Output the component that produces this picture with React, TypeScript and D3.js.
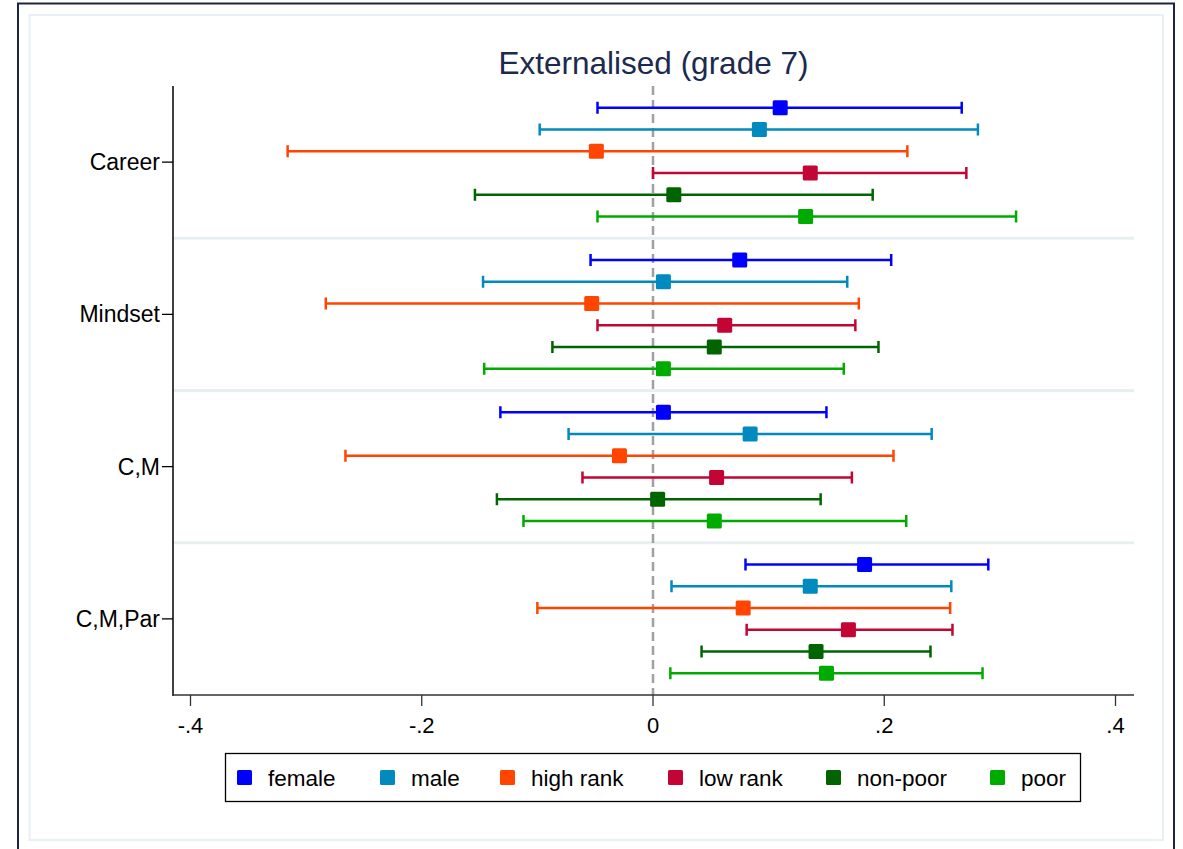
import React from "react";
import * as d3 from "d3";

// models on the y axis, top to bottom
const models = ["Career", "Mindset", "C,M", "C,M,Par"];

const groups = ["female", "male", "high rank", "low rank", "non-poor", "poor"];
const colors = ["#0000ff", "#008abd", "#ff4500", "#c20535", "#006400", "#00ab00"];

// point estimates, one array per model, in the order of groups
const estCareer = [0.11, 0.092, -0.049, 0.136, 0.018, 0.132];
const estMindset = [0.075, 0.009, -0.053, 0.062, 0.053, 0.009];
const estCM = [0.009, 0.084, -0.029, 0.055, 0.004, 0.053];
const estCMPar = [0.183, 0.136, 0.078, 0.169, 0.141, 0.15];

// lower and upper ends of the confidence intervals
const loCareer = [-0.048, -0.098, -0.316, 0.0, -0.154, -0.048];
const hiCareer = [0.267, 0.281, 0.22, 0.271, 0.19, 0.314];
const loMindset = [-0.054, -0.147, -0.283, -0.048, -0.087, -0.146];
const hiMindset = [0.206, 0.168, 0.178, 0.175, 0.195, 0.165];
const loCM = [-0.132, -0.073, -0.266, -0.061, -0.135, -0.112];
const hiCM = [0.15, 0.241, 0.208, 0.172, 0.145, 0.219];
const loCMPar = [0.08, 0.016, -0.1, 0.081, 0.042, 0.015];
const hiCMPar = [0.29, 0.258, 0.257, 0.259, 0.24, 0.285];

const xTicks = [-0.4, -0.2, 0, 0.2, 0.4];

const est = [estCareer, estMindset, estCM, estCMPar];
const lo = [loCareer, loMindset, loCM, loCMPar];
const hi = [hiCareer, hiMindset, hiCM, hiCMPar];

const rows = models.flatMap((m, mi) =>
  groups.map((g, gi) => ({
    model: m,
    group: g,
    color: colors[gi],
    gi,
    est: est[mi][gi],
    lo: lo[mi][gi],
    hi: hi[mi][gi],
  }))
);

const fmt = (v: number) => {
  if (v === 0) return "0";
  const s = String(Math.abs(v)).replace(/^0/, "");
  return v < 0 ? "-" + s : s;
};

const font = "'Liberation Sans', Arial, Helvetica, sans-serif";

export default function App() {
  const W = 1183;
  const H = 849;
  const left = 173;
  const right = 1134;
  const top = 86;
  const bottom = 695;

  const x = d3.scaleLinear().domain([-0.4, 0.4]).range([190.5, 1115.5]);
  const y = d3.scaleBand().domain(models).range([top, bottom]).padding(0);
  const bw = y.bandwidth();
  const rowY = (m: string, gi: number) => (y(m) as number) + (bw / 7) * (gi + 1);

  const legendX = [237, 380, 500, 668, 826, 990];

  return (
    <svg
      width={W}
      height={H}
      style={{ position: "absolute", left: 0, top: 0, display: "block", background: "#fff" }}
      fontFamily={font}
    >
      <rect x={18} y={3.5} width={1156} height={860} fill="#fff" stroke="#1c2442" strokeWidth={2} />
      <rect x={29.5} y={15} width={1133.5} height={825} fill="#fff" stroke="#e8f0f3" strokeWidth={2} />

      <text x={(left + right) / 2} y={74} textAnchor="middle" fontSize={31.5} fill="#1c2a4e">
        Externalised (grade 7)
      </text>

      {/* separators between models */}
      {models.slice(1).map((m) => (
        <line key={m} x1={left} x2={right} y1={y(m)} y2={y(m)} stroke="#e8eff1" strokeWidth={3} />
      ))}

      {/* zero reference */}
      <line
        x1={x(0)}
        x2={x(0)}
        y1={top}
        y2={bottom}
        stroke="#a0a0a0"
        strokeWidth={2.5}
        strokeDasharray="9 5"
      />

      {/* axes */}
      <line x1={left} x2={left} y1={top} y2={bottom + 1} stroke="#000" strokeWidth={1.5} />
      <line x1={left} x2={right} y1={bottom} y2={bottom} stroke="#333" strokeWidth={1.5} />
      {models.map((m) => {
        const cy = (y(m) as number) + bw / 2;
        return (
          <g key={m}>
            <line x1={left - 11} x2={left} y1={cy} y2={cy} stroke="#000" strokeWidth={1.3} />
            <text x={left - 13} y={cy + 8} textAnchor="end" fontSize={23} fill="#000">
              {m}
            </text>
          </g>
        );
      })}
      {xTicks.map((t) => (
        <g key={t}>
          <line x1={x(t)} x2={x(t)} y1={bottom} y2={bottom + 11} stroke="#333" strokeWidth={1.3} />
          <text x={x(t)} y={733} textAnchor="middle" fontSize={22} fill="#000">
            {fmt(t)}
          </text>
        </g>
      ))}

      {/* confidence intervals and estimates */}
      {rows.map((r, i) => {
        const cy = rowY(r.model, r.gi);
        return (
          <g key={i}>
            <line x1={x(r.lo)} x2={x(r.hi)} y1={cy} y2={cy} stroke={r.color} strokeWidth={2.5} />
            <line x1={x(r.lo)} x2={x(r.lo)} y1={cy - 6} y2={cy + 6} stroke={r.color} strokeWidth={2.5} />
            <line x1={x(r.hi)} x2={x(r.hi)} y1={cy - 6} y2={cy + 6} stroke={r.color} strokeWidth={2.5} />
            <rect x={x(r.est) - 7.5} y={cy - 7.5} width={15} height={15} rx={1.5} fill={r.color} />
          </g>
        );
      })}

      {/* legend */}
      <rect x={225.5} y={753.5} width={855} height={48} fill="#fff" stroke="#000" strokeWidth={1.3} />
      {groups.map((g, i) => (
        <g key={g}>
          <rect x={legendX[i]} y={770} width={15} height={15} rx={1.5} fill={colors[i]} />
          <text x={legendX[i] + 31} y={786} fontSize={22.5} fill="#000">
            {g}
          </text>
        </g>
      ))}
    </svg>
  );
}
